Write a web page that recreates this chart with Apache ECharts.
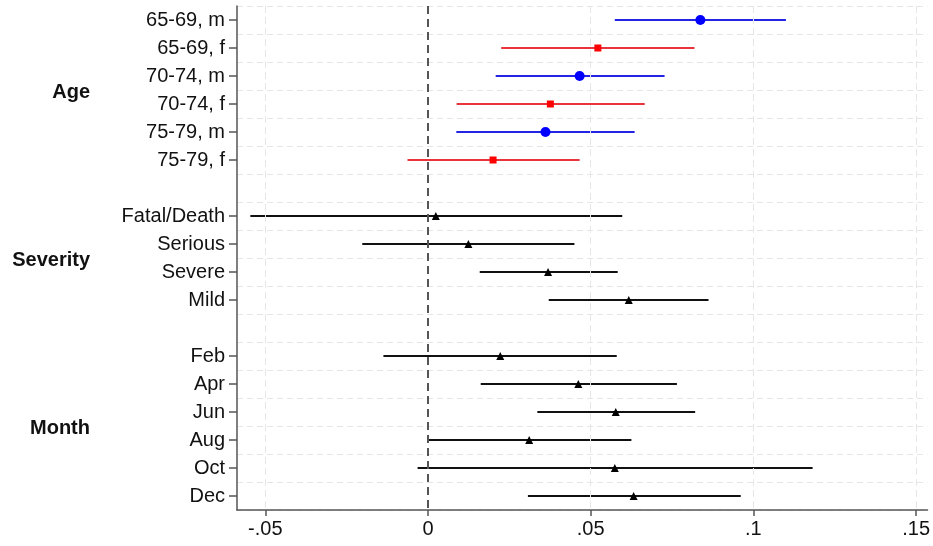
<!DOCTYPE html>
<html>
<head>
<meta charset="utf-8">
<script src="https://cdn.jsdelivr.net/npm/echarts@6/dist/echarts.min.js"></script>
<style>
html,body{margin:0;padding:0;background:#fff;}
#chart{width:933px;height:546px;}
</style>
</head>
<body>
<div id="chart"></div>
<script>
// ---- data ----
const categories = ['65-69, m','65-69, f','70-74, m','70-74, f','75-79, m','75-79, f','',
  'Fatal/Death','Serious','Severe','Mild','',
  'Feb','Apr','Jun','Aug','Oct','Dec'];
const rowType = ['m','f','m','f','m','f','', 'o','o','o','o','', 'o','o','o','o','o','o'];
const estimates = [0.0837,0.0522,0.0466,0.0376,0.0361,0.0200,null,
  0.0024,0.0124,0.0369,0.0617,null,
  0.0222,0.0462,0.0577,0.0311,0.0574,0.0632];
const lower = [0.0574,0.0225,0.0208,0.0088,0.0087,-0.0063,null,
  -0.0546,-0.0202,0.0159,0.0371,null,
  -0.0137,0.0162,0.0336,0.0000,-0.0032,0.0307];
const upper = [0.1100,0.0819,0.0727,0.0666,0.0635,0.0466,null,
  0.0597,0.0450,0.0583,0.0862,null,
  0.0580,0.0765,0.0821,0.0625,0.1182,0.0961];
const groups = [
  {name:'Age', rows:['65-69, m','75-79, f']},
  {name:'Severity', rows:['Fatal/Death','Mild']},
  {name:'Month', rows:['Feb','Dec']}
];
const xTickValues = [-0.05, 0, 0.05, 0.1, 0.15];
const xTickLabels = ['-.05', '0', '.05', '.1', '.15'];
const xMin = -0.0587, xMax = 0.1535;

// ---- styles ----
const FONT = "'Liberation Sans', Arial, Helvetica, sans-serif";
const styles = {
  m: {line:'#2323e6', point:'#0000ff', symbol:'circle', size:10},
  f: {line:'#e8343a', point:'#ff0000', symbol:'rect', size:7},
  o: {line:'#111111', point:'#000000', symbol:'triangle', size:8}
};

const chart = echarts.init(document.getElementById('chart'), null, {renderer:'canvas'});

const series = [];
// background gridlines and zero line
series.push({
  type:'line', data:[], silent:true, z:1,
  markLine:{
    silent:true, symbol:'none', label:{show:false}, animation:false,
    data: xTickValues.filter(v => v !== 0).map(v => ({xAxis:v,
      lineStyle:{color:'#e6e6e6', width:1, type:[7,4]}}))
      .concat([{xAxis:0, lineStyle:{color:'#555555', width:2, type:[8,5]}}])
  }
});
['m','f','o'].forEach(t => {
  const st = styles[t];
  const barData = [], ptData = [];
  categories.forEach((c, i) => {
    if (rowType[i] === t) {
      barData.push([lower[i], i, upper[i]]);
      ptData.push([estimates[i], i]);
    }
  });
  series.push({
    type:'custom', z:3, silent:true,
    encode:{x:[0,2], y:1},
    data: barData,
    renderItem: function(params, api){
      const a = api.coord([api.value(0), api.value(1)]);
      const b = api.coord([api.value(2), api.value(1)]);
      return {type:'line', shape:{x1:a[0], y1:a[1], x2:b[0], y2:b[1]},
        style:{stroke:st.line, lineWidth:2}};
    }
  });
  series.push({
    type:'scatter', z:4, silent:true,
    symbol: st.symbol, symbolSize: st.size,
    itemStyle:{color: st.point, opacity:1},
    data: ptData
  });
});

const option = {
  animation:false,
  backgroundColor:'#ffffff',
  grid:{left:237, right:2, top:6, bottom:36, containLabel:false},
  xAxis:{
    type:'value', min:xMin, max:xMax,
    axisLine:{show:true, onZero:false, lineStyle:{color:'#555555', width:1.5}},
    axisTick:{show:true, length:6, customValues:xTickValues, lineStyle:{color:'#555555', width:1.5}},
    axisLabel:{customValues:xTickValues, color:'#111', fontSize:20, fontFamily:FONT, margin:9,
      formatter: v => { const i = xTickValues.findIndex(t => Math.abs(t - v) < 1e-9); return i >= 0 ? xTickLabels[i] : ''; }},
    splitLine:{show:false}
  },
  yAxis:{
    type:'category', data:categories, inverse:true, boundaryGap:true,
    axisLine:{show:true, onZero:false, lineStyle:{color:'#555555', width:1.5}},
    axisTick:{show:true, length:8, alignWithLabel:true,
      interval: (idx, val) => val !== '', lineStyle:{color:'#555555', width:1.5}},
    axisLabel:{interval:0, color:'#111', fontSize:20, fontFamily:FONT, margin:12},
    splitLine:{show:true, interval:0, lineStyle:{color:'#e6e6e6', width:1, type:[6,4]}}
  },
  series: series
};
chart.setOption(option);

// group labels, placed at the centre of each group's rows
const gfx = groups.map(g => {
  const y1 = chart.convertToPixel({yAxisIndex:0}, g.rows[0]);
  const y2 = chart.convertToPixel({yAxisIndex:0}, g.rows[1]);
  return {type:'text', x:90, y:(y1 + y2) / 2 + 2,
    style:{text:g.name, fill:'#111', font:'bold 20px ' + FONT, align:'right', verticalAlign:'middle'}};
});
chart.setOption({graphic:gfx});
</script>
</body>
</html>
